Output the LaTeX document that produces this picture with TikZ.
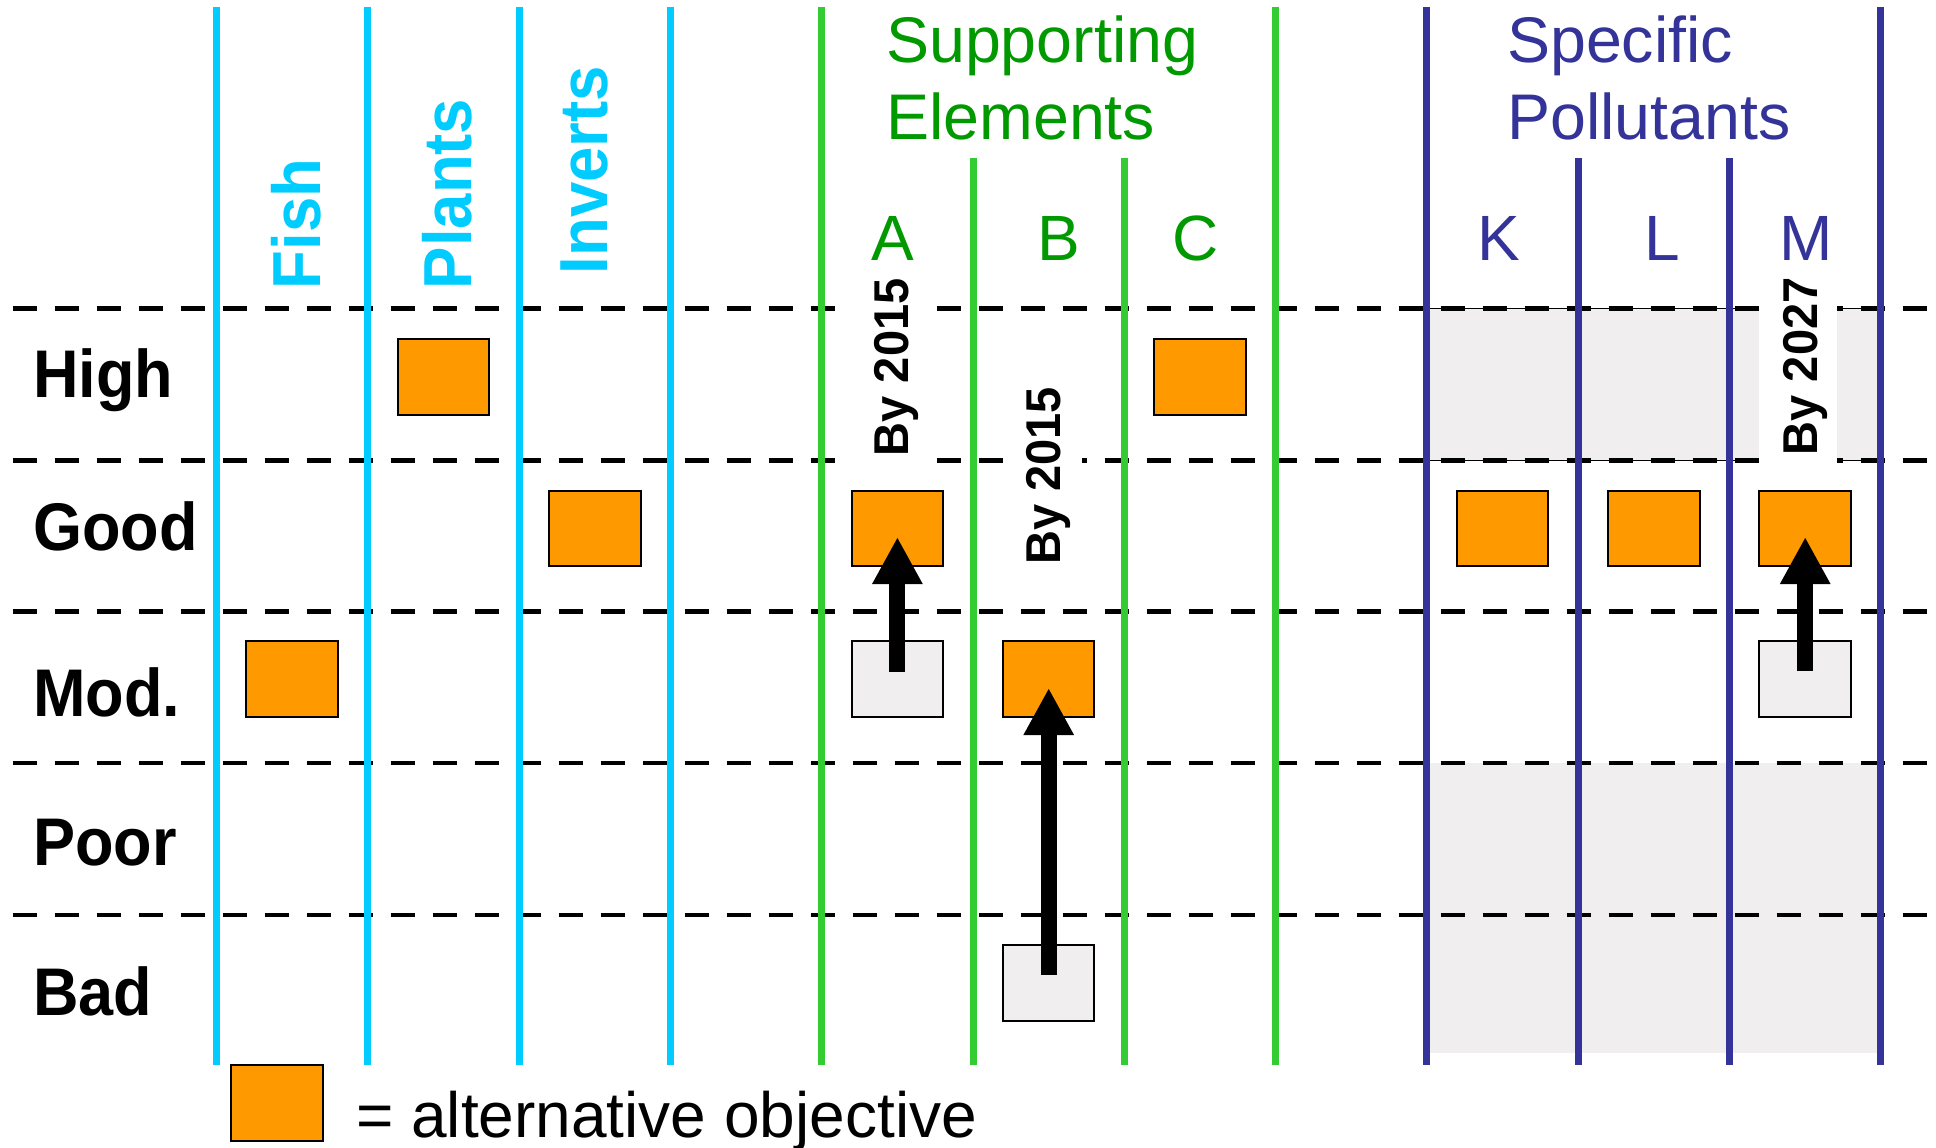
\documentclass[tikz,border=0pt]{standalone}
\usepackage{fontspec}
\usepackage{graphicx}
\setmainfont{Liberation Sans}
\usetikzlibrary{arrows.meta,calc}
\definecolor{cyanln}{HTML}{00CCFF}
\definecolor{greenln}{HTML}{33CC33}
\definecolor{greentx}{HTML}{009900}
\definecolor{bluetx}{HTML}{333399}
\definecolor{orangebox}{HTML}{FF9900}
\definecolor{greyfill}{HTML}{F0EEEF}
\newcommand{\tallt}[1]{\scalebox{1}[1.07]{#1}}
\begin{document}
\begin{tikzpicture}[x=1pt,y=-1pt,
  vline/.style={line width=7pt},
  dline/.style={line width=4.6pt, dash pattern=on 24pt off 18pt},
  obj/.style={draw=black, line width=2pt, fill=orangebox, minimum width=91.5pt, minimum height=75.5pt, inner sep=0pt},
  cur/.style={obj, fill=greyfill},
  rowlab/.style={anchor=base west, inner sep=0pt, font=\fontsize{63}{70}\selectfont\bfseries},
  collab/.style={anchor=base west, inner sep=0pt, rotate=90, text=cyanln, font=\fontsize{63.5}{70}\selectfont\bfseries},
  head/.style={anchor=base west, inner sep=0pt, font=\fontsize{64.5}{70}\selectfont},
  letter/.style={anchor=base, inner sep=0pt, font=\fontsize{64}{70}\selectfont},
  bylab/.style={anchor=base west, rotate=90, fill=white, inner xsep=9pt, inner ysep=0pt, font=\fontsize{47}{50}\selectfont\bfseries},
  bigarrow/.style={line width=16pt, -{Triangle[width=47pt,length=47pt]}},
]
\useasboundingbox (0,0) rectangle (1936,1148);
\fill[white] (0,0) rectangle (1936,1148);

% shaded regions (specific pollutants)
\filldraw[fill=greyfill, draw=black, line width=1.5pt] (1426.9,308.7) rectangle (1880.8,460.5);
\fill[greyfill] (1426.9,763) rectangle (1880.8,1052.6);

% dashed class boundaries
\foreach \yy in {308.7,460.5,611.2,763,914.9}
  \draw[dline] (12.5,\yy) -- (1936,\yy);

% vertical lines
\foreach \xx in {216.5,367.8,519.1,670.4}
  \draw[vline, cyanln] (\xx,7) -- (\xx,1065);
\foreach \xx in {821.7,1275.6}
  \draw[vline, greenln] (\xx,7) -- (\xx,1065);
\foreach \xx in {973.0,1124.3}
  \draw[vline, greenln] (\xx,158) -- (\xx,1065);
\foreach \xx in {1426.9,1880.8}
  \draw[vline, bluetx] (\xx,7) -- (\xx,1065);
\foreach \xx in {1578.2,1729.5}
  \draw[vline, bluetx] (\xx,158) -- (\xx,1065);

% "By" labels with white background
\node[bylab, text height=73pt, text depth=29pt] (byA) at (908,465.4) {\scalebox{1}[1.04]{By 2015}};
\node[bylab, text height=57pt, text depth=22pt] (byB) at (1060,574) {\scalebox{1}[1.04]{By 2015}};
\node[bylab, text height=58pt, text depth=20pt] (byM) at (1817,464.4) {\scalebox{1}[1.04]{By 2027}};

% boxes
\node[obj] (oPlants) at (443.5,377) {};
\node[obj] (oC) at (1200,377) {};
\node[obj] (oInv) at (594.8,528.5) {};
\node[obj] (oA) at (897.4,528.5) {};
\node[obj] (oK) at (1502.6,528.5) {};
\node[obj] (oL) at (1653.9,528.5) {};
\node[obj] (oM) at (1805.2,528.5) {};
\node[obj] (oFish) at (292.2,679) {};
\node[cur] (gA) at (897.4,679) {};
\node[obj] (oB) at (1048.7,679) {};
\node[cur] (gM) at (1805.2,679) {};
\node[cur] (gB) at (1048.7,983) {};
\node[obj] (legbox) at (277.2,1103) {};

% arrows
\draw[bigarrow] ($(gA.center)+(0,-7)$) -- ($(oA.center)+(0,8.5)$);
\draw[bigarrow] ($(gB.center)+(0,-8.5)$) -- ($(oB.center)+(0,9)$);
\draw[bigarrow] ($(gM.center)+(0,-8)$) -- ($(oM.center)+(0,8.5)$);

% row labels
\node[rowlab] (rHigh) at (33,397) {\tallt{High}};
\node[rowlab] (rGood) at (33,550) {\tallt{Good}};
\node[rowlab] (rMod) at (33,716) {\tallt{Mod.}};
\node[rowlab] (rPoor) at (33,865) {\tallt{Poor}};
\node[rowlab] (rBad) at (33,1015.6) {\tallt{Bad}};

% column headers
\node[collab] (hFish) at (320,289.5) {\tallt{Fish}};
\node[collab] (hPlants) at (471,289.5) {\tallt{Plants}};
\node[collab] (hInv) at (607,274.5) {\tallt{Inverts}};

\node[head, text=greentx] (sup1) at (886,62.7) {Supporting};
\node[head, text=greentx] (sup2) at (886,139.3) {Elements};
\node[head, text=bluetx] (spe1) at (1507,62.7) {Specific};
\node[head, text=bluetx] (spe2) at (1507,139.3) {Pollutants};

\node[letter, text=greentx] (lA) at (893,260) {A};
\node[letter, text=greentx] (lB) at (1059,260) {B};
\node[letter, text=greentx] (lC) at (1196,260) {C};
\node[letter, text=bluetx] (lK) at (1499,260) {K};
\node[letter, text=bluetx] (lL) at (1662,260) {L};
\node[letter, text=bluetx] (lM) at (1806,260) {M};

% legend
\node[anchor=base west, inner sep=0pt, font=\fontsize{64}{70}\selectfont] (legtext) at (356,1137) {= alternative objective};
\end{tikzpicture}
\end{document}
